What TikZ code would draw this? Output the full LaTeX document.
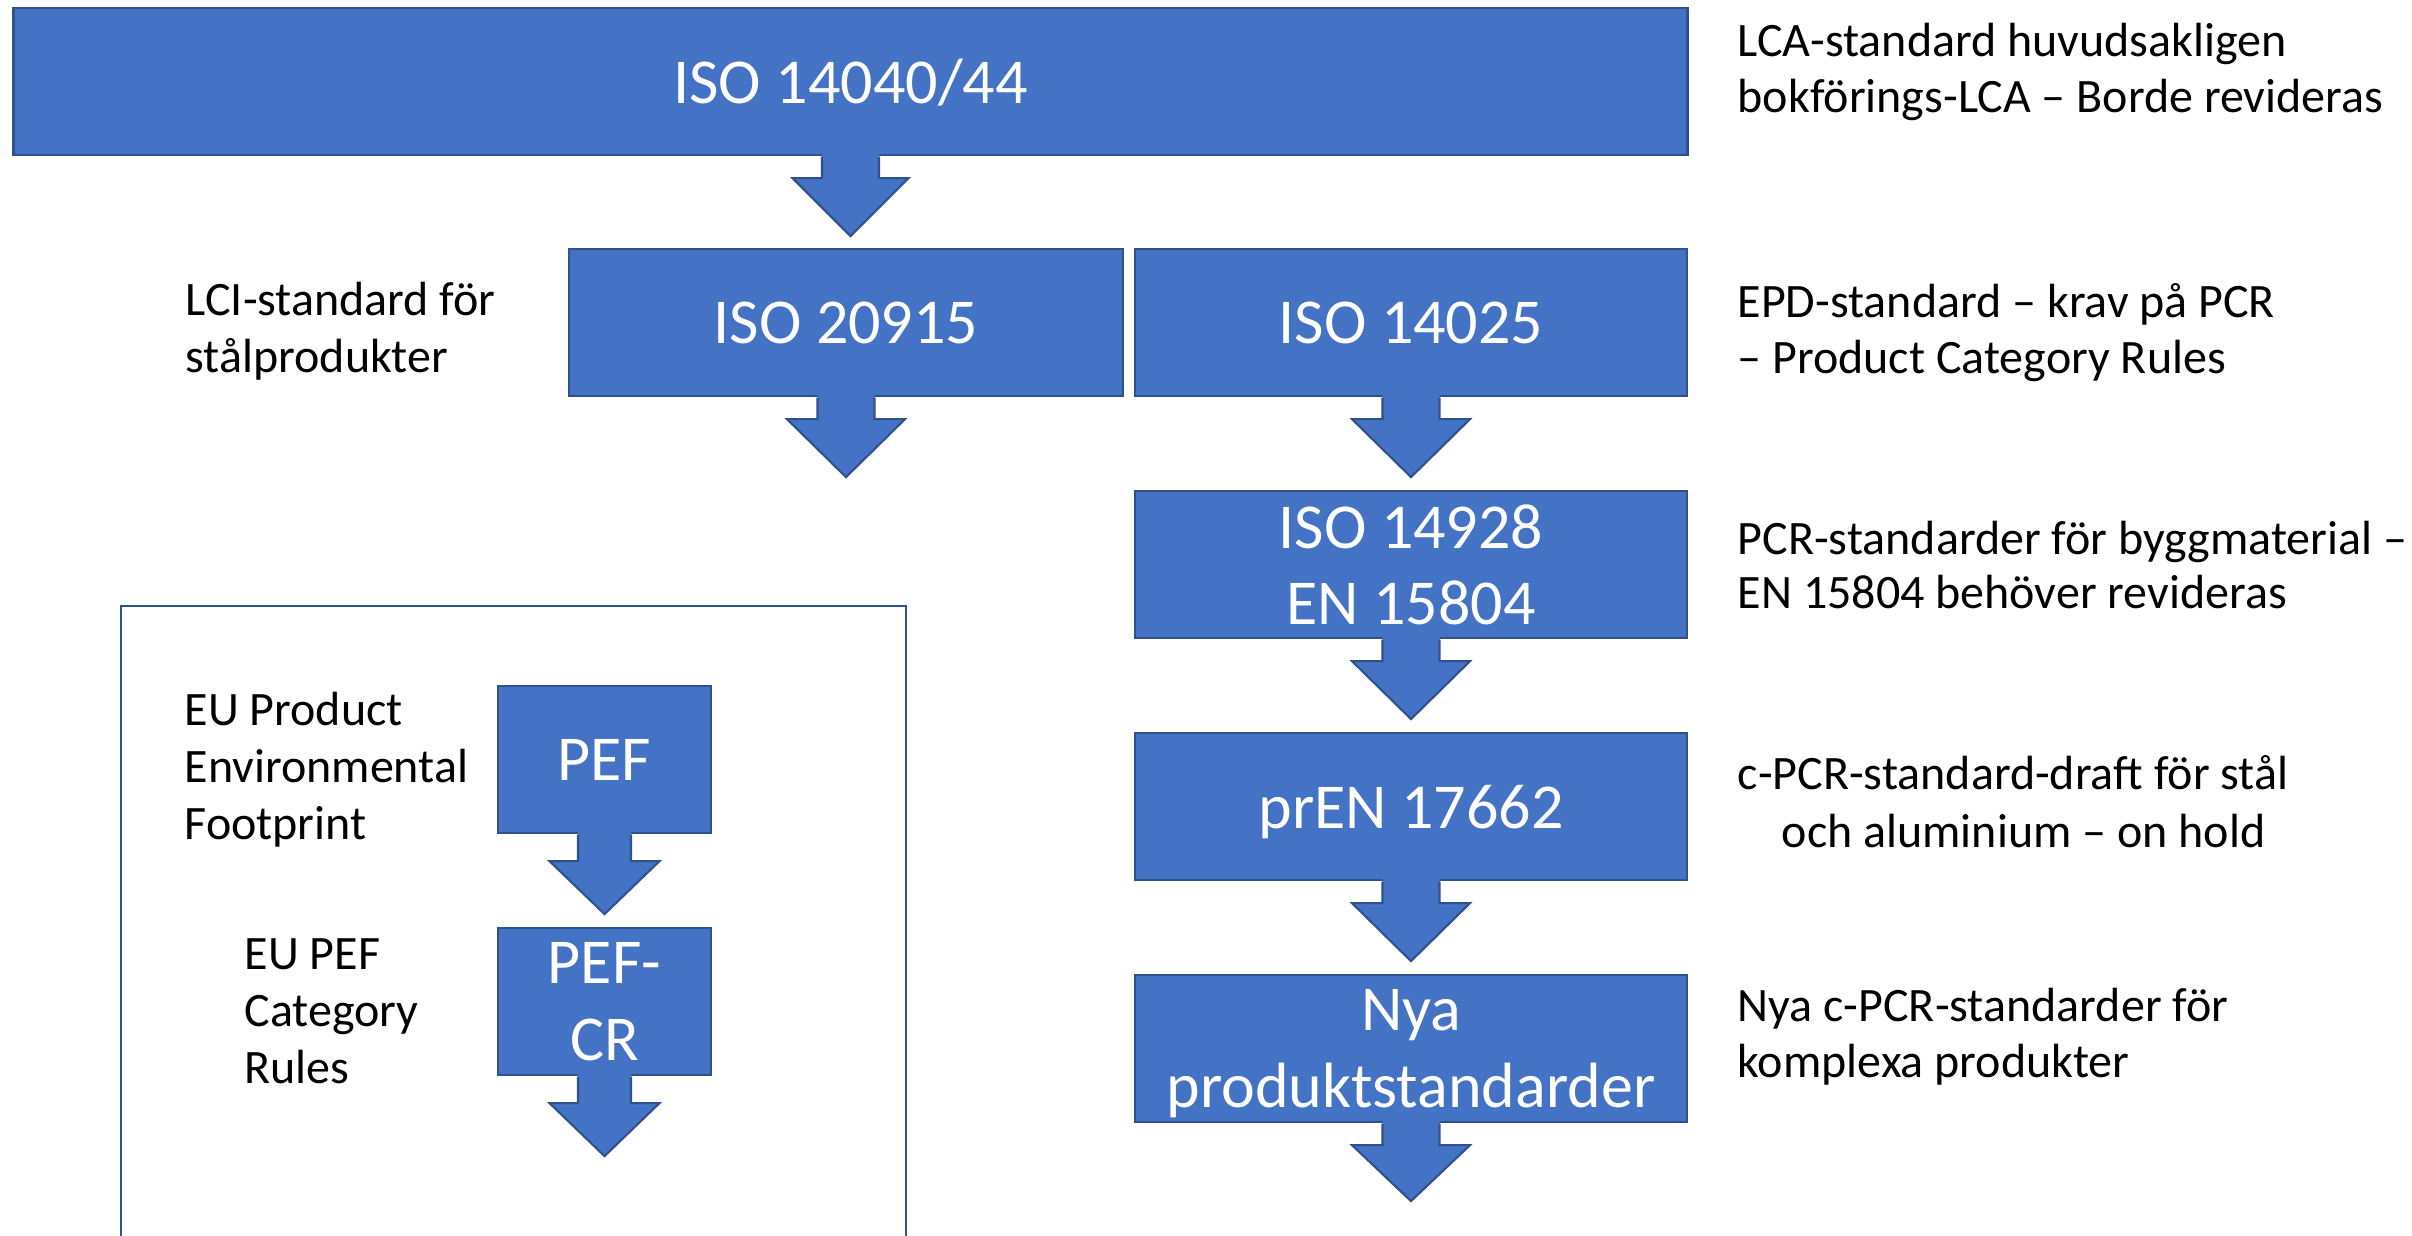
\documentclass[tikz,border=0pt]{standalone}
\usepackage{fontspec}
\setmainfont{Carlito}
\usetikzlibrary{calc}
\definecolor{boxblue}{HTML}{4472C4}
\definecolor{edgeblue}{HTML}{2F528F}
\tikzset{
  stdbox/.style={draw=edgeblue, line width=0.6pt, fill=boxblue, text=white,
    font=\fontsize{18.2}{21.8}\selectfont, align=center, inner sep=0pt,
    text depth=0pt, minimum height=1.47cm},
  lbl/.style={anchor=base west, inner sep=0pt, text=black,
    font=\fontsize{13.65}{16.2}\selectfont},
  arrfill/.style={fill=boxblue},
  arredge/.style={draw=edgeblue, line width=0.6pt, line join=miter},
  frame/.style={draw=edgeblue, line width=0.7pt}
}
% #1 start anchor, #2 shaft half width, #3 head half width, #4 shaft length, #5 total length
\newcommand{\blkarrow}[5]{%
  \path[arrfill] ($(#1)+(-#2,-3)$) -- ($(#1)+(-#2,#4)$) -- ($(#1)+(-#3,#4)$) -- ($(#1)+(0,#5)$)
     -- ($(#1)+(#3,#4)$) -- ($(#1)+(#2,#4)$) -- ($(#1)+(#2,-3)$) -- cycle;
  \path[arredge] ($(#1)+(-#2,0.5)$) -- ($(#1)+(-#2,#4)$) -- ($(#1)+(-#3,#4)$) -- ($(#1)+(0,#5)$)
     -- ($(#1)+(#3,#4)$) -- ($(#1)+(#2,#4)$) -- ($(#1)+(#2,0.5)$);
}
\begin{document}
\begin{tikzpicture}[x=0.01cm,y=-0.01cm]
\useasboundingbox (0,0) rectangle (2412,1235);

% frame around EU part (open at bottom)
\draw[frame] (121,1245) -- (121,606) -- (906,606) -- (906,1245);

% boxes
\node[stdbox, minimum width=16.73cm] (iso4044) at (850.5,81.5) {ISO 14040/44};
\node[stdbox, minimum width=5.54cm] (iso20915) at (846,322.5) {ISO 20915};
\node[stdbox, minimum width=5.52cm] (iso14025) at (1411,322.5) {ISO 14025};
\node[stdbox, minimum width=5.52cm] (iso14928) at (1411,564.5) {ISO 14928\\EN 15804};
\node[stdbox, minimum width=5.52cm] (pren) at (1411,806.5) {prEN 17662};
\node[stdbox, minimum width=5.52cm] (nya) at (1411,1048.5) {Nya\\produktstandarder};
\node[stdbox, minimum width=2.13cm] (pef) at (604.5,759.5) {PEF};
\node[stdbox, minimum width=2.13cm] (pefcr) at (604.5,1001.5) {PEF-\\CR};

% block arrows
\blkarrow{iso4044.south}{28.5}{58}{22}{80}
\blkarrow{iso20915.south}{28.5}{59}{22}{80}
\blkarrow{iso14025.south}{28.5}{59}{22}{80}
\blkarrow{iso14928.south}{28.5}{59}{22}{80}
\blkarrow{pren.south}{28.5}{59}{22}{80}
\blkarrow{nya.south}{28.5}{59}{22}{78}
\blkarrow{pef.south}{26.5}{55}{27}{80}
\blkarrow{pefcr.south}{26.5}{55}{27}{80}

% right-hand labels
\node[lbl] (r1a) at (1737,56) {LCA-standard huvudsakligen};
\node[lbl] (r1b) at (1737,112) {bokförings-LCA – Borde revideras};
\node[lbl] (r2a) at (1737,317) {EPD-standard – krav på PCR};
\node[lbl] (r2b) at (1737,373) {– Product Category Rules};
\node[lbl] (r3a) at (1737,554) {PCR-standarder för byggmaterial –};
\node[lbl] (r3b) at (1737,608) {EN 15804 behöver revideras};
\node[lbl] (r4a) at (1737,789) {c-PCR-standard-draft för stål};
\node[lbl] (r4b) at (1781,847) {och aluminium – on hold};
\node[lbl] (r5a) at (1737,1021) {Nya c-PCR-standarder för};
\node[lbl] (r5b) at (1737,1077) {komplexa produkter};

% left-hand labels
\node[lbl] (l1a) at (185,315) {LCI-standard för};
\node[lbl] (l1b) at (185,372) {stålprodukter};
\node[lbl] (l2a) at (184,725) {EU Product};
\node[lbl] (l2b) at (184,782) {Environmental};
\node[lbl] (l2c) at (184,839) {Footprint};
\node[lbl] (l3a) at (244,969) {EU PEF};
\node[lbl] (l3b) at (244,1026) {Category};
\node[lbl] (l3c) at (244,1083) {Rules};
\end{tikzpicture}
\end{document}
